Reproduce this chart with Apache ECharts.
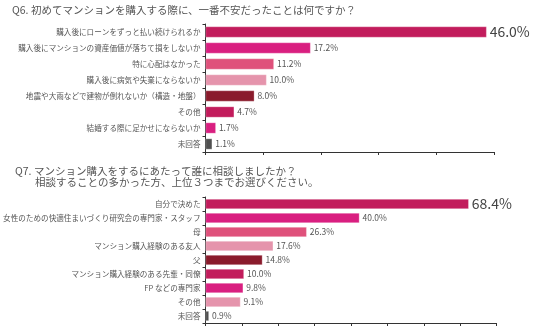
<!DOCTYPE html>
<html>
<head>
<meta charset="utf-8">
<script src="https://cdn.jsdelivr.net/npm/echarts@6/dist/echarts.min.js"></script>
<style>
  html, body { margin: 0; padding: 0; background: #fff; }
  #chart { width: 536px; height: 328px; }
</style>
</head>
<body>
<div id="chart"></div>
<script>
// Q6: biggest worry when buying a first condominium
const q6Title = 'Q6. 初めてマンションを購入する際に、一番不安だったことは何ですか？';
const q6Categories = [
  '購入後にローンをずっと払い続けられるか',
  '購入後にマンションの資産価値が落ちて損をしないか',
  '特に心配はなかった',
  '購入後に病気や失業にならないか',
  '地震や大雨などで建物が倒れないか（構造・地盤）',
  'その他',
  '結婚する際に足かせにならないか',
  '未回答'
];
const q6Values = [46.0, 17.2, 11.2, 10.0, 8.0, 4.7, 1.7, 1.1];

// Q7: who was consulted when buying
const q7TitleLine1 = 'Q7. マンション購入をするにあたって誰に相談しましたか？';
const q7TitleLine2 = '相談することの多かった方、上位３つまでお選びください。';
const q7Categories = [
  '自分で決めた',
  '女性のための快適住まいづくり研究会の専門家・スタッフ',
  '母',
  'マンション購入経験のある友人',
  '父',
  'マンション購入経験のある先輩・同僚',
  'FP などの専門家',
  'その他',
  '未回答'
];
const q7Values = [68.4, 40.0, 26.3, 17.6, 14.8, 10.0, 9.8, 9.1, 0.9];

const palette = {
  crimson: '#c21c5c',
  magenta: '#d91f80',
  rose: '#df517b',
  blush: '#e594ac',
  maroon: '#8a1b2c',
  gray: '#505050'
};
const q6Colors = [palette.crimson, palette.magenta, palette.rose, palette.blush,
                  palette.maroon, palette.crimson, palette.magenta, palette.gray];
const q7Colors = [palette.crimson, palette.magenta, palette.rose, palette.blush,
                  palette.maroon, palette.crimson, palette.magenta, palette.blush, palette.gray];

const FONT = '"Noto Sans CJK JP", "Noto Sans", sans-serif';

function barData(values, colors) {
  return values.map((v, i) => ({
    value: v,
    itemStyle: { color: colors[i] },
    label: i === 0
      ? { fontSize: 14, color: '#444' }
      : { fontSize: 8.5, color: '#555' }
  }));
}

const axisLineStyle = { lineStyle: { color: '#333', width: 1 } };
const titleStyle = { fontSize: 10.5, fill: '#555', fontFamily: FONT };

const chart = echarts.init(document.getElementById('chart'), null, { renderer: 'canvas' });
chart.setOption({
  animation: false,
  textStyle: { fontFamily: FONT },
  graphic: [
    { type: 'text', left: 12, top: 5, style: Object.assign({ text: q6Title }, titleStyle) },
    { type: 'text', left: 15, top: 166, style: Object.assign({ text: q7TitleLine1 }, titleStyle) },
    { type: 'text', left: 35, top: 177, style: Object.assign({ text: q7TitleLine2 }, titleStyle) }
  ],
  grid: [
    { left: 205.5, top: 24, width: 288.5, height: 128 },
    { left: 205.5, top: 197, width: 291, height: 126 }
  ],
  xAxis: [
    { gridIndex: 0, type: 'value', min: 0, max: 47.2, interval: 9.44,
      axisLine: Object.assign({ show: true }, axisLineStyle),
      axisTick: { show: true, length: 3, lineStyle: { color: '#333' } },
      axisLabel: { show: false }, splitLine: { show: false } },
    { gridIndex: 1, type: 'value', min: 0, max: 75.6, interval: 9.45,
      axisLine: Object.assign({ show: true }, axisLineStyle),
      axisTick: { show: true, length: 3, lineStyle: { color: '#333' } },
      axisLabel: { show: false }, splitLine: { show: false } }
  ],
  yAxis: [
    { gridIndex: 0, type: 'category', inverse: true, data: q6Categories,
      axisLine: Object.assign({ show: true }, axisLineStyle),
      axisTick: { show: true, length: 3, lineStyle: { color: '#333' } },
      axisLabel: { fontSize: 7.6, color: '#555', margin: 5, fontFamily: FONT } },
    { gridIndex: 1, type: 'category', inverse: true, data: q7Categories,
      axisLine: Object.assign({ show: true }, axisLineStyle),
      axisTick: { show: true, length: 3, lineStyle: { color: '#333' } },
      axisLabel: { fontSize: 7.6, color: '#555', margin: 5, fontFamily: FONT } }
  ],
  series: [
    { type: 'bar', xAxisIndex: 0, yAxisIndex: 0, barWidth: 11,
      data: barData(q6Values, q6Colors),
      itemStyle: { borderColor: 'rgba(255,255,255,0.45)', borderWidth: 0.6 },
      label: { show: true, position: 'right', distance: 3, fontFamily: FONT,
               formatter: p => p.value.toFixed(1) + '%' } },
    { type: 'bar', xAxisIndex: 1, yAxisIndex: 1, barWidth: 10,
      data: barData(q7Values, q7Colors),
      itemStyle: { borderColor: 'rgba(255,255,255,0.45)', borderWidth: 0.6 },
      label: { show: true, position: 'right', distance: 3, fontFamily: FONT,
               formatter: p => p.value.toFixed(1) + '%' } }
  ]
});
</script>
</body>
</html>
